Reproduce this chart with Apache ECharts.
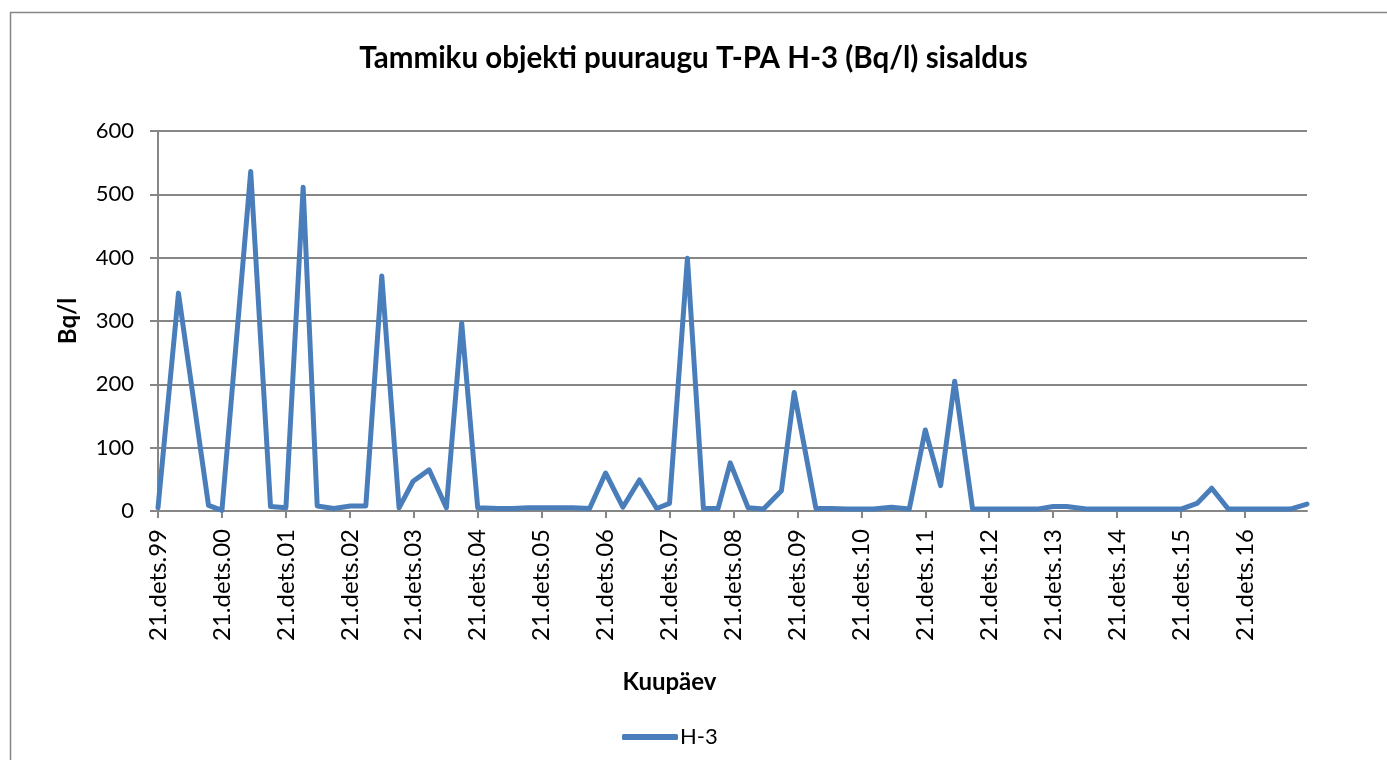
<!DOCTYPE html>
<html>
<head>
<meta charset="utf-8">
<script src="https://cdn.jsdelivr.net/npm/echarts@6/dist/echarts.min.js"></script>
<style>
  html, body { margin: 0; padding: 0; background: #fff; }
  #chart { width: 1387px; height: 760px; }
</style>
</head>
<body>
<div id="chart"></div>
<script>
  // aeg aastates alates 21.dets.1999
  const years = [0, 0.32, 0.79, 1.0, 1.45, 1.76, 2.0, 2.27, 2.49, 2.75, 3.01, 3.25, 3.5, 3.77, 3.99, 4.24, 4.51, 4.75,
    5.0, 5.32, 5.55, 5.79, 6.02, 6.25, 6.49, 6.75, 7.0, 7.27, 7.53, 7.8, 8.0, 8.28, 8.53, 8.76, 8.95, 9.23, 9.47, 9.75, 9.95,
    10.29, 10.53, 10.77, 11.0, 11.19, 11.47, 11.75, 12.0, 12.24, 12.46, 12.74, 13.0, 13.25, 13.5, 13.75, 14.0, 14.21, 14.52,
    14.75, 15.0, 15.25, 15.5, 15.75, 16.0, 16.25, 16.48, 16.74, 17.0, 17.25, 17.5, 17.71, 17.97]
  const h3 = [5, 344, 9, 1, 536, 7, 5, 511, 8, 4, 8, 8, 371, 5, 47, 65, 5, 297,
    5, 4, 4, 5, 5, 5, 5, 4, 60, 6, 49, 4, 12, 399, 4, 4, 76, 5, 3, 32, 187,
    4, 4, 3, 3, 3, 6, 3, 128, 40, 205, 3, 3, 3, 3, 3, 7, 7, 3,
    3, 3, 3, 3, 3, 3, 12, 36, 3, 3, 3, 3, 3, 11]
  const tickYears = [0, 1, 2, 3, 4, 5, 6, 7, 8, 9, 10, 11, 12, 13, 14, 15, 16, 17]
  const tickLabels = ['21.dets.99', '21.dets.00', '21.dets.01', '21.dets.02', '21.dets.03', '21.dets.04',
    '21.dets.05', '21.dets.06', '21.dets.07', '21.dets.08', '21.dets.09', '21.dets.10', '21.dets.11',
    '21.dets.12', '21.dets.13', '21.dets.14', '21.dets.15', '21.dets.16']

  const font = 'Lato, "Open Sans", sans-serif'
  const gray = '#868686'
  const blue = '#4a7ebb'

  const chart = echarts.init(document.getElementById('chart'))
  chart.setOption({
    backgroundColor: '#fff',
    animation: false,
    textStyle: { fontFamily: font },
    graphic: [{
      type: 'rect',
      shape: { x: 10.5, y: 12.5, width: 1400, height: 800 },
      style: { fill: 'none', stroke: gray, lineWidth: 1.5 },
      silent: true
    }],
    title: {
      text: 'Tammiku objekti puuraugu T-PA H-3 (Bq/l) sisaldus',
      left: 'center',
      top: 38,
      textStyle: { fontFamily: font, fontSize: 29.5, fontWeight: 'bold', color: '#000' }
    },
    legend: {
      top: 721,
      left: 617,
      itemWidth: 56,
      itemHeight: 6,
      itemGap: 4,
      icon: 'roundRect',
      textStyle: { fontFamily: font, fontSize: 22, color: '#000', padding: [0, 0, 0, -3] },
      data: ['H-3']
    },
    grid: { left: 158, right: 80, top: 131, bottom: 249 },
    xAxis: {
      type: 'value',
      min: 0,
      max: 17.97,
      interval: 1,
      name: 'Kuupäev',
      nameLocation: 'middle',
      nameGap: 159,
      nameTextStyle: { fontFamily: font, fontSize: 24, fontWeight: 'bold', color: '#000', padding: [0, 126, 0, 0] },
      axisLine: { lineStyle: { color: gray, width: 2 } },
      axisTick: { show: true, length: 7, lineStyle: { color: gray, width: 2 }, customValues: tickYears },
      axisLabel: {
        rotate: 90,
        margin: 18,
        fontSize: 24,
        color: '#000',
        fontFamily: font,
        customValues: tickYears,
        formatter: v => tickLabels[Math.round(v)] || ''
      },
      splitLine: { show: false }
    },
    yAxis: {
      type: 'value',
      min: 0,
      max: 600,
      interval: 100,
      name: 'Bq/l',
      nameLocation: 'middle',
      nameGap: 78,
      nameTextStyle: { fontFamily: font, fontSize: 24, fontWeight: 'bold', color: '#000' },
      axisLine: { show: true, lineStyle: { color: gray, width: 2 } },
      axisTick: { show: true, inside: false, length: 8, lineStyle: { color: gray, width: 2 } },
      axisLabel: { fontSize: 22, color: '#000', margin: 24, fontFamily: font },
      splitLine: { lineStyle: { color: gray, width: 2 } }
    },
    series: [{
      name: 'H-3',
      type: 'line',
      data: years.map((x, i) => [x, h3[i]]),
      showSymbol: false,
      symbol: 'none',
      lineStyle: { color: blue, width: 5, join: 'round', cap: 'round' },
      itemStyle: { color: blue }
    }]
  })
</script>
</body>
</html>
